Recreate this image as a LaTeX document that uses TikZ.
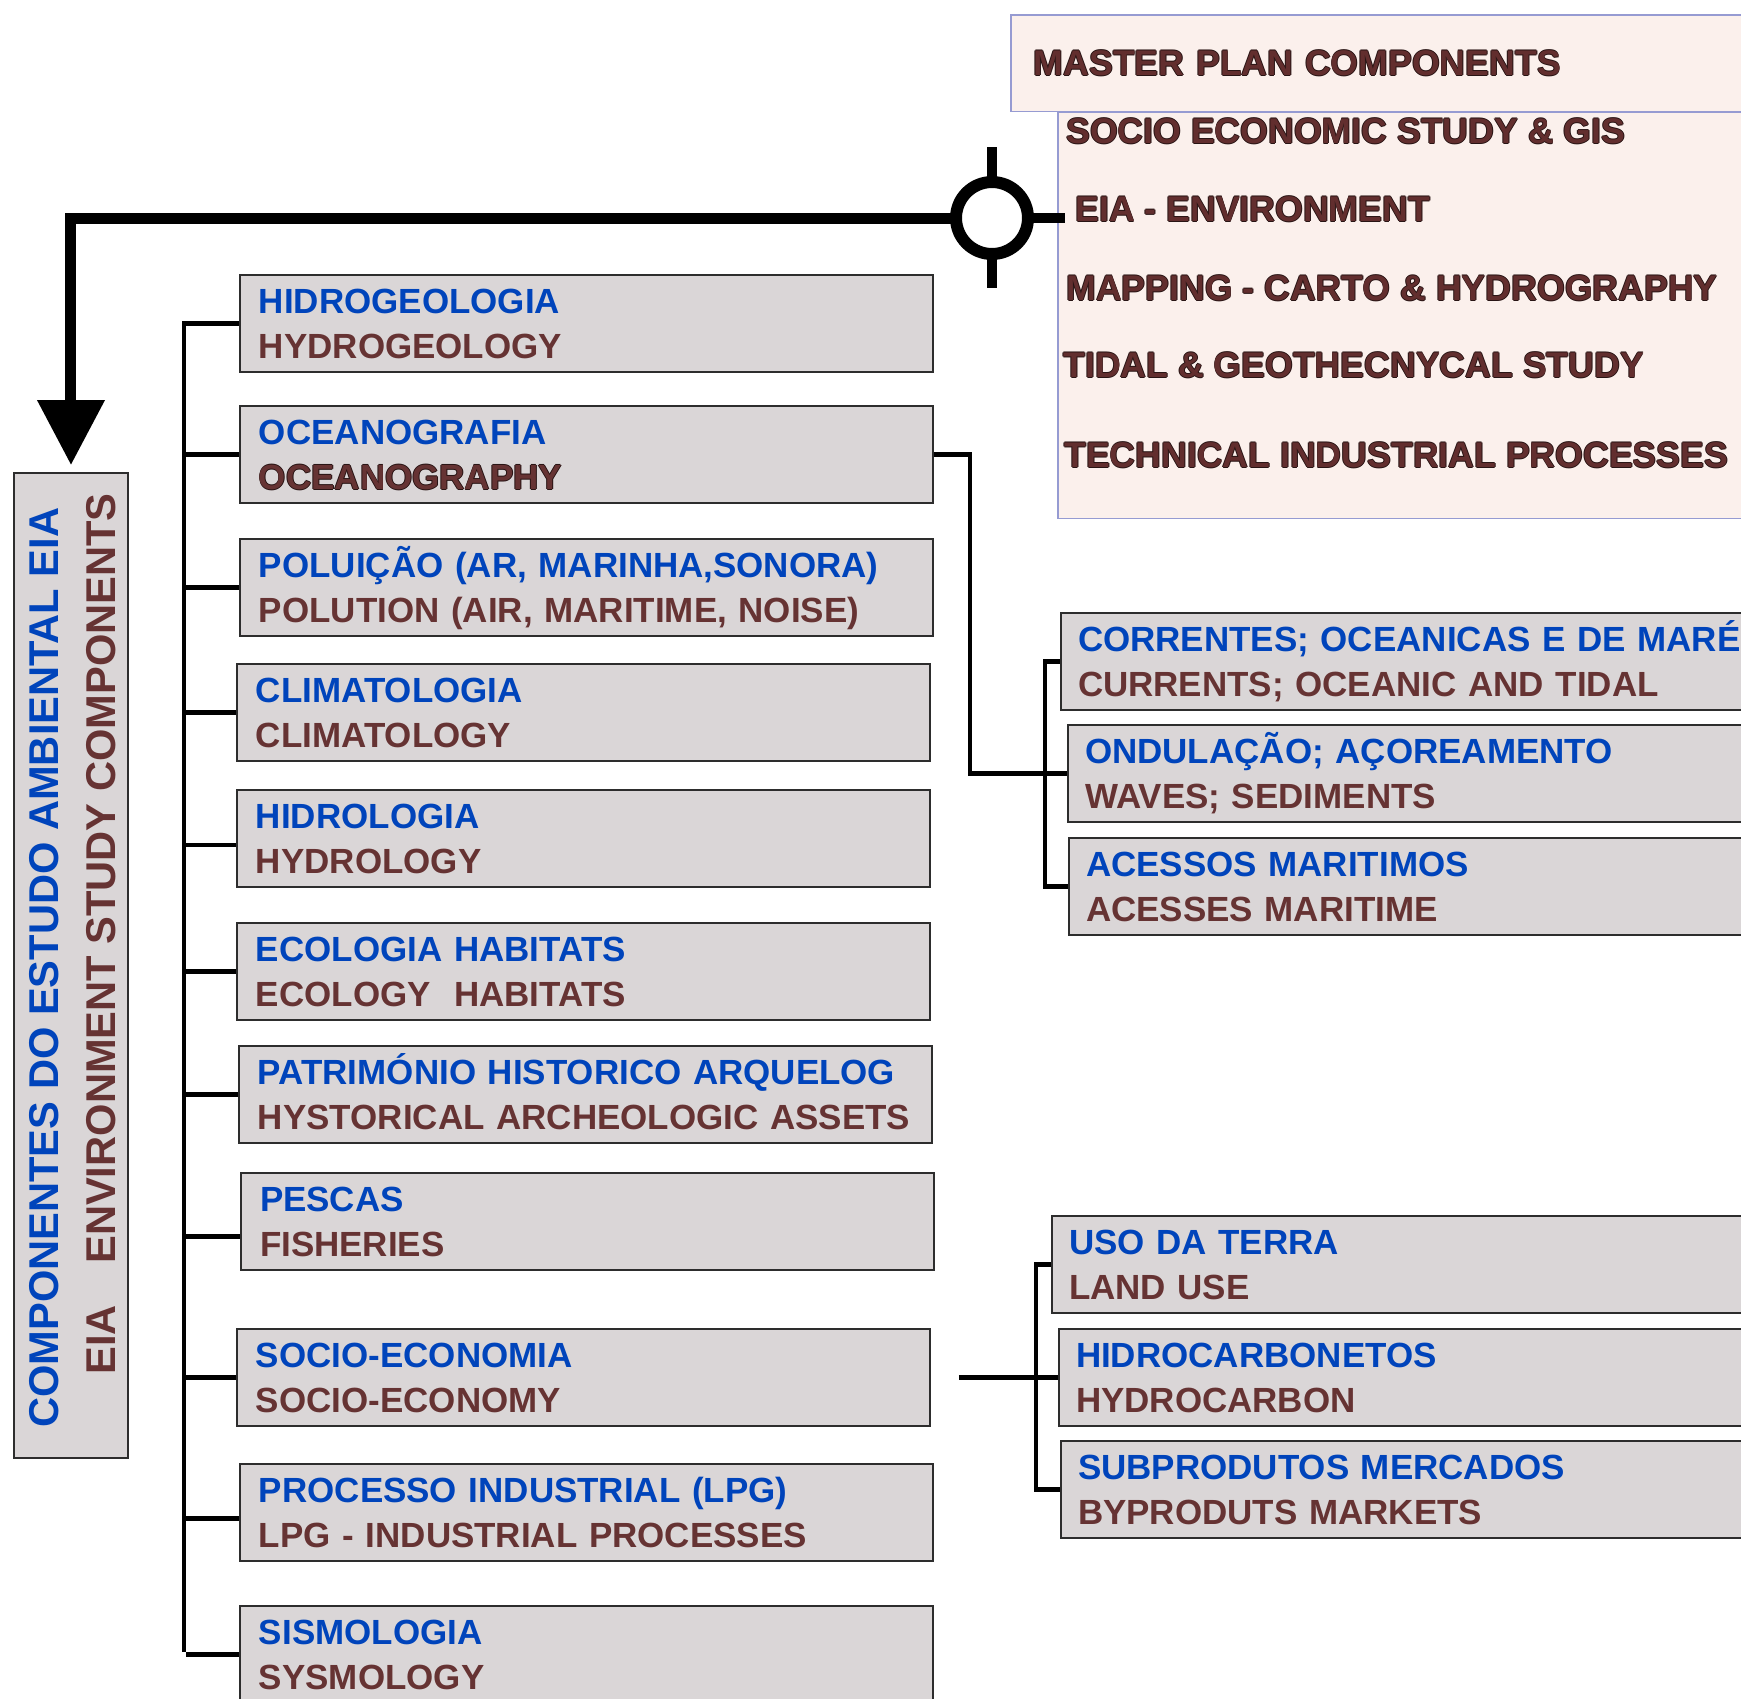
\documentclass[tikz,border=0pt]{standalone}
\usepackage{fontspec}
\setmainfont{Liberation Sans}
\usetikzlibrary{arrows.meta}
\definecolor{ptblue}{RGB}{0,68,187}
\definecolor{enbrown}{RGB}{102,51,51}
\definecolor{boxgrey}{RGB}{218,214,215}
\definecolor{boxline}{RGB}{45,45,45}
\definecolor{planfill}{RGB}{251,240,236}
\definecolor{planline}{RGB}{150,155,210}
\definecolor{planbrown}{RGB}{98,46,46}
\definecolor{planedge}{RGB}{40,20,20}
\newcommand{\outlined}[1]{%
  \rlap{\color{planedge}\kern-0.5pt\hbox{#1}}%
  \rlap{\color{planedge}\kern0.5pt\hbox{#1}}%
  \rlap{\color{planedge}\raise0.5pt\hbox{#1}}%
  \rlap{\color{planedge}\lower0.5pt\hbox{#1}}%
  #1}
\newcommand{\twoline}[2]{\rule{0pt}{0.72em}\smash{\color{ptblue}#1}\\\rule{0pt}{0.72em}\smash{\color{enbrown}#2}}
\newcommand{\planstyle}{\bfseries\fontsize{20.3}{24}\selectfont}
\tikzset{
  boxbase/.style={draw=boxline, line width=0.04cm, fill=boxgrey, anchor=north west},
  topic/.style={boxbase, inner xsep=0.38cm, inner ysep=0pt, text width=13.1cm, minimum height=1.94cm, align=left},
  subtopic/.style={topic, inner xsep=0.34cm, text width=13.4cm},
  branch/.style={line width=0.09cm},
  planbox/.style={draw=planline, line width=0.03cm, fill=planfill, anchor=north west, inner sep=0pt},
  planitem/.style={anchor=west, inner sep=0pt, text=planbrown, font=\planstyle},
  hubring/.style={circle, draw, line width=0.24cm, minimum size=1.44cm, inner sep=0pt, outer sep=0pt, fill=white},
  spoke/.style={line width=0.21cm},
  mainline/.style={line width=0.22cm, -{Triangle[width=1.3cm, length=1.3cm]}, shorten >=0.14cm},
  sidetext/.style={rotate=90, anchor=west, inner sep=0pt, font=\bfseries\fontsize{23.7}{28}\selectfont}
}

\begin{document}
\begin{tikzpicture}[x=0.02cm, y=-0.02cm, font=\bfseries\fontsize{19.9}{25.8}\selectfont]
\useasboundingbox (0,0) rectangle (1741,1698);
\clip (0,0) rectangle (1741,1698);
% --- master plan block (top right) ---
\node[planbox, minimum width=14.06cm, minimum height=8.14cm] (planlist) at (1057,111) {};
\node[planbox, minimum width=15cm, minimum height=1.94cm, inner xsep=0.46cm, text width=14.08cm, align=left, font=\planstyle, text=planbrown] (planhead) at (1010,14) {\outlined{MASTER PLAN COMPONENTS}};
\node[planitem] (socioplan) at (1066,131) {\outlined{SOCIO ECONOMIC STUDY \& GIS}};
\node[planitem] (eiaplan) at (1075,209) {\outlined{EIA - ENVIRONMENT}};
\node[planitem] (mapplan) at (1066,288) {\outlined{MAPPING - CARTO \& HYDROGRAPHY}};
\node[planitem] (tidalplan) at (1063,365) {\outlined{TIDAL \& GEOTHECNYCAL STUDY}};
\node[planitem] (techplan) at (1064,455) {\outlined{TECHNICAL INDUSTRIAL PROCESSES}};
% --- EIA side panel ---
\node[boxbase, minimum width=2.28cm, minimum height=19.7cm, inner sep=0pt] (eia) at (13,472) {};
\node[sidetext, text=ptblue] (eiapt) at (44,1428) {COMPONENTES DO ESTUDO AMBIENTAL EIA};
\node[sidetext, text=enbrown] (eiaen) at (101,1375) {EIA\quad ENVIRONMENT STUDY COMPONENTS};
% --- hub and arrow down to the panel ---
\node[hubring] (hub) at (992,218) {};
\draw[spoke] (hub.north) -- ++(0,-35);
\draw[spoke] (hub.south) -- ++(0,34);
\draw[spoke] (hub.east) -- ++(37,0);
\draw[mainline] (hub.west) -| (eia.north);
% --- study components ---
\node[topic] (hidro) at (239,274) {\twoline{HIDROGEOLOGIA}{HYDROGEOLOGY}};
\node[topic] (ocean) at (239,405) {\twoline{OCEANOGRAFIA}{\outlined{OCEANOGRAPHY}}};
\node[topic] (polu) at (239,538) {\twoline{POLUIÇÃO (AR, MARINHA,SONORA)}{POLUTION (AIR, MARITIME, NOISE)}};
\node[topic] (clima) at (236,663) {\twoline{CLIMATOLOGIA}{CLIMATOLOGY}};
\node[topic] (hidrol) at (236,789) {\twoline{HIDROLOGIA}{HYDROLOGY}};
\node[topic] (eco) at (236,922) {\twoline{ECOLOGIA HABITATS}{ECOLOGY\ \ HABITATS}};
\node[topic] (patri) at (238,1045) {\twoline{PATRIMÓNIO HISTORICO ARQUELOG}{HYSTORICAL ARCHEOLOGIC ASSETS}};
\node[topic] (pescas) at (240,1172) {\twoline{PESCAS}{FISHERIES}};
\node[topic] (socio) at (236,1328) {\twoline{SOCIO-ECONOMIA}{SOCIO-ECONOMY}};
\node[topic] (proc) at (239,1463) {\twoline{PROCESSO INDUSTRIAL (LPG)}{LPG - INDUSTRIAL PROCESSES}};
\node[topic] (sismo) at (239,1605) {\twoline{SISMOLOGIA}{SYSMOLOGY}};
% spine with branches
\coordinate (spinebot) at (184,1652);
\draw[branch] (hidro.west) -| (spinebot);
\draw[branch] (spinebot |- ocean.west) -- (ocean.west);
\draw[branch] (spinebot |- polu.west) -- (polu.west);
\draw[branch] (spinebot |- clima.west) -- (clima.west);
\draw[branch] ([yshift=-0.13cm]spinebot |- hidrol.west) -- ([yshift=-0.13cm]hidrol.west);
\draw[branch] (spinebot |- eco.west) -- (eco.west);
\draw[branch] (spinebot |- patri.west) -- (patri.west);
\draw[branch] ([yshift=-0.3cm]spinebot |- pescas.west) -- ([yshift=-0.3cm]pescas.west);
\draw[branch] (spinebot |- socio.west) -- (socio.west);
\draw[branch] ([yshift=-0.12cm]spinebot |- proc.west) -- ([yshift=-0.12cm]proc.west);
\draw[branch] ([xshift=0.04cm]spinebot |- sismo.west) -- (sismo.west);
% --- oceanography details ---
\node[subtopic] (curr) at (1060,612) {\twoline{CORRENTES; OCEANICAS E DE MARÉ}{CURRENTS; OCEANIC AND TIDAL}};
\node[subtopic] (ondul) at (1067,724) {\twoline{ONDULAÇÃO; AÇOREAMENTO}{WAVES; SEDIMENTS}};
\node[subtopic] (acess) at (1068,837) {\twoline{ACESSOS MARITIMOS}{ACESSES MARITIME}};
\draw[branch] (ocean.east) -- ++(36,0) |- (ondul.west);
\draw[branch] (curr.west) -- ++(-15,0) |- (acess.west);
% --- socio-economy details ---
\node[subtopic] (uso) at (1051,1215) {\twoline{USO DA TERRA}{LAND USE}};
\node[subtopic] (hidroc) at (1058,1328) {\twoline{HIDROCARBONETOS}{HYDROCARBON}};
\node[subtopic] (subp) at (1060,1440) {\twoline{SUBPRODUTOS MERCADOS}{BYPRODUTS MARKETS}};
\draw[branch] (uso.west) -- ++(-15,0) |- (subp.west);
\draw[branch] ([xshift=0.56cm]socio.east) -- (hidroc.west);
\end{tikzpicture}
\end{document}
